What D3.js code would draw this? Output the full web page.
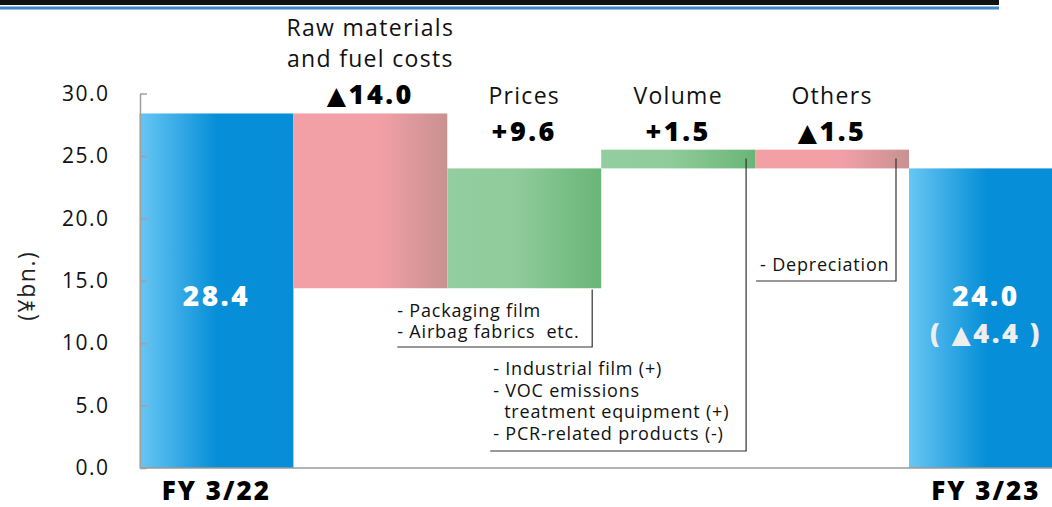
<!DOCTYPE html>
<html>
<head>
<meta charset="utf-8">
<script src="https://cdn.jsdelivr.net/npm/d3@7"></script>
<style>
  body { margin: 0; background: #fff; }
  svg { display: block; }
</style>
</head>
<body>
<div id="chart"></div>
<script>
// data
var categories = ["FY 3/22", "Raw materials\nand fuel costs", "Prices", "Volume", "Others", "FY 3/23"];
var startValue = 28.4;
var deltas = [-14.0, 9.6, 1.5, -1.5];
var endValue = 24.0;
var valueLabels = ["28.4", "▲14.0", "+9.6", "+1.5", "▲1.5", "24.0"];
var changeLabel = "( ▲4.4 )";
var yTicks = [0, 5, 10, 15, 20, 25, 30];
var notes = [
    {cat: 2, lines: ["- Packaging film", "- Airbag fabrics  etc."]},
    {cat: 3, lines: ["- Industrial film (+)", "- VOC emissions", "  treatment equipment (+)", "- PCR-related products (-)"]},
    {cat: 4, lines: ["- Depreciation"]}
];

var width = 1052, height = 507;
var font = "'Open Sans', sans-serif";

// build bar rows (waterfall)
var bars = [];
var running = startValue;
bars.push({cat: categories[0], lo: 0, hi: startValue, kind: "total"});
deltas.forEach(function(d, i) {
    var next = running + d;
    bars.push({cat: categories[i + 1], lo: Math.min(running, next), hi: Math.max(running, next), kind: d < 0 ? "neg" : "pos"});
    running = next;
});
bars.push({cat: categories[5], lo: 0, hi: endValue, kind: "total"});

var svg = d3.select("#chart").append("svg")
    .attr("width", width)
    .attr("height", height);

var x = d3.scaleBand()
    .domain(categories)
    .range([139.5, 139.5 + 6 * 153.9])
    .padding(0);

var y = d3.scaleLinear()
    .domain([0, 30])
    .range([468, 93.5]);

// gradients
var defs = svg.append("defs");
function grad(id, stops) {
    var g = defs.append("linearGradient").attr("id", id)
        .attr("x1", "0%").attr("x2", "100%").attr("y1", "0%").attr("y2", "0%");
    stops.forEach(function(s) {
        g.append("stop").attr("offset", s[0]).attr("stop-color", s[1]);
    });
}
grad("g-total", [["0%", "#68c6f3"], ["50%", "#068fd8"], ["100%", "#068fd8"]]);
grad("g-neg", [["0%", "#f2a0a6"], ["55%", "#f2a0a6"], ["100%", "#c99191"]]);
grad("g-pos", [["0%", "#93cea0"], ["45%", "#8fcb9b"], ["100%", "#69b676"]]);

// writes a label, drawing the ▲ mark a bit larger like the source deck
function label(sel, str, triSize) {
    var parts = str.split("▲");
    sel.append("tspan").text(parts[0]);
    for (var k = 1; k < parts.length; k++) {
        sel.append("tspan")
            .attr("font-family", "'DejaVu Sans', sans-serif")
            .attr("font-size", triSize)
            .text("▲");
        sel.append("tspan").text(parts[k]);
    }
}

// top header rules (title cut off)
svg.append("rect").attr("x", 0).attr("y", 0).attr("width", 999).attr("height", 5).attr("fill", "#111");
svg.append("rect").attr("x", 0).attr("y", 6.5).attr("width", 999).attr("height", 3).attr("fill", "#3f86c6");

// bars
svg.selectAll("rect.bar")
    .data(bars)
    .enter().append("rect")
    .attr("class", "bar")
    .attr("x", function(d) { return x(d.cat); })
    .attr("width", x.bandwidth())
    .attr("y", function(d) { return y(d.hi); })
    .attr("height", function(d) { return y(d.lo) - y(d.hi); })
    .attr("fill", function(d) { return "url(#g-" + d.kind + ")"; });

// x axis line
svg.append("line")
    .attr("x1", 140).attr("x2", width)
    .attr("y1", y(0)).attr("y2", y(0))
    .attr("stroke", "#9a9a9a").attr("stroke-width", 1.5);

// y axis
var yAxis = svg.append("g")
    .attr("transform", "translate(140,0)")
    .call(d3.axisLeft(y).tickValues(yTicks).tickFormat(d3.format(".1f"))
        .tickSizeInner(-7).tickSizeOuter(0).tickPadding(30.5));
yAxis.select(".domain").attr("stroke", "#a0a0a0").attr("stroke-width", 1.5);
yAxis.selectAll(".tick line").attr("stroke", "#a0a0a0").attr("stroke-width", 1.5);
yAxis.selectAll(".tick text")
    .attr("font-family", font).attr("font-size", 21).attr("letter-spacing", 1.5).attr("fill", "#111");

svg.append("text")
    .attr("transform", "translate(35," + y(14.6) + ") rotate(-90)")
    .attr("text-anchor", "middle")
    .attr("font-family", font).attr("font-size", 23).attr("letter-spacing", 1.5).attr("fill", "#222")
    .text("(¥bn.)");

// step labels
bars.forEach(function(d, i) {
    var cx = x(d.cat) + x.bandwidth() / 2;
    if (d.kind === "total") {
        svg.append("text")
            .attr("x", cx).attr("y", y(13))
            .attr("text-anchor", "middle")
            .attr("font-family", font).attr("font-weight", 800).attr("font-size", 28)
            .attr("letter-spacing", 2.5)
            .attr("fill", "#fff")
            .text(valueLabels[i]);
        if (i === 5) {
            svg.append("text")
                .attr("x", cx).attr("y", y(13) + 37)
                .attr("text-anchor", "middle")
                .attr("font-family", font).attr("font-weight", 800).attr("font-size", 27)
                .attr("letter-spacing", 2.5)
                .attr("fill", "#eeeeee")
                .call(label, changeLabel, 25);
        }
        svg.append("text")
            .attr("x", cx).attr("y", 500)
            .attr("text-anchor", "middle")
            .attr("font-family", font).attr("font-weight", 800).attr("font-size", 26)
            .attr("letter-spacing", 2)
            .attr("fill", "#000")
            .text(d.cat);
    } else {
        var base = y(Math.max(d.hi, 25.5)) - 9;
        svg.append("text")
            .attr("x", cx).attr("y", base)
            .attr("text-anchor", "middle")
            .attr("font-family", font).attr("font-weight", 800).attr("font-size", 27)
            .attr("letter-spacing", 2.5)
            .attr("fill", "#000")
            .call(label, valueLabels[i], 25);
        var nameLines = d.cat.split("\n");
        nameLines.forEach(function(t, j) {
            svg.append("text")
                .attr("x", cx)
                .attr("y", base - 37 - (nameLines.length - 1 - j) * 31)
                .attr("text-anchor", "middle")
                .attr("font-family", font).attr("font-size", 23)
                .attr("letter-spacing", 1.3)
                .attr("fill", "#111")
                .text(t);
        });
    }
});

// callout notes
var noteLayout = {
    2: {lineX: -9, left: -50, textX: -50, top: 14.3, first: 316.5, bottom: 347},
    3: {lineX: -9, left: -111, textX: -108, top: 24.8, first: 375, bottom: 451},
    4: {lineX: -13, left: 1, textX: 5, top: 24.8, first: 271, bottom: 281}
};
notes.forEach(function(n) {
    var c = categories[n.cat];
    var L = noteLayout[n.cat];
    var right = x(c) + x.bandwidth() + L.lineX;
    var left = x(c) + L.left;
    svg.append("path")
        .attr("d", "M" + right + "," + y(L.top) + "V" + L.bottom + "H" + left)
        .attr("fill", "none").attr("stroke", "#333").attr("stroke-width", 1.2);
    n.lines.forEach(function(t, j) {
        svg.append("text")
            .attr("x", x(c) + L.textX).attr("y", L.first + j * 21.7)
            .attr("font-family", font).attr("font-size", 18)
            .attr("letter-spacing", 0.8)
            .attr("fill", "#111")
            .attr("xml:space", "preserve")
            .style("white-space", "pre")
            .text(t);
    });
});
</script>
</body>
</html>
